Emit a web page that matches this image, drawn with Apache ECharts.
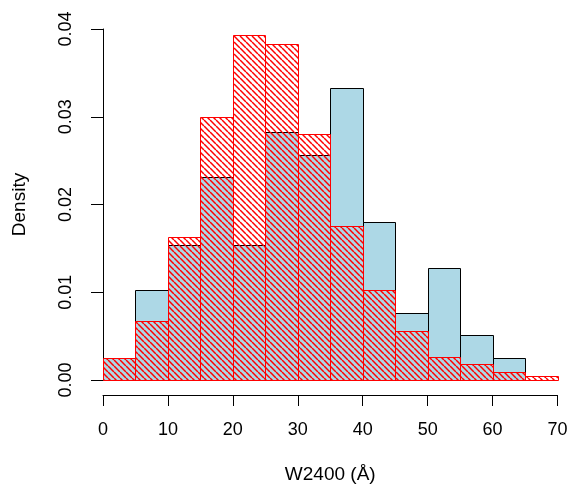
<!DOCTYPE html>
<html>
<head>
<meta charset="utf-8">
<script src="https://cdn.jsdelivr.net/npm/echarts@6/dist/echarts.min.js"></script>
<style>html,body{margin:0;padding:0;background:#fff}#c{width:571px;height:489px}</style>
</head>
<body>
<div id="c"></div>
<script>
var breaks = [0,5,10,15,20,25,30,35,40,45,50,55,60,65,70];
var blueDensity = [0.00256,0.01026,0.01538,0.02308,0.01538,0.02821,0.02564,0.03333,0.01795,0.00769,0.01282,0.00513,0.00256,0];
var redDensity = [0.00253,0.00668,0.01631,0.02997,0.03937,0.03828,0.02809,0.01759,0.0103,0.00562,0.00267,0.00181,0.00086,0.00049];
var xTicks = [0,10,20,30,40,50,60,70];
var yTicks = [0,0.01,0.02,0.03,0.04];

function toBins(vals){
  var out = [];
  for (var i=0;i<vals.length;i++){ if (vals[i]>0) out.push([breaks[i], breaks[i+1], vals[i]]); }
  return out;
}

var n = 6;
var cv = document.createElement('canvas');
cv.width = n; cv.height = n;
var cx = cv.getContext('2d');
cx.strokeStyle = '#ff0000';
cx.lineWidth = 1.5;
for (var k=-1;k<=1;k++){
  cx.beginPath(); cx.moveTo(0, k*n); cx.lineTo(n, n+k*n); cx.stroke();
}

function makeRender(fill, stroke){
  return function(params, api){
    var x0 = api.value(0), x1 = api.value(1), y = api.value(2);
    var p0 = api.coord([x0, y]);
    var p1 = api.coord([x1, 0]);
    return {
      type: 'rect',
      shape: {x: Math.round(p0[0])+0.5, y: Math.round(p0[1])+0.5, width: Math.round(p1[0])-Math.round(p0[0]), height: Math.round(p1[1])-Math.round(p0[1])},
      style: {fill: fill, stroke: stroke, lineWidth: 1}
    };
  };
}

var font = '"Liberation Sans", Arial, Helvetica, sans-serif';
var chart = echarts.init(document.getElementById('c'), null, {renderer:'canvas'});
chart.setOption({
  animation: false,
  backgroundColor: '#ffffff',
  grid: {left: 103, right: 13.5, top: 29, bottom: 106.7, containLabel: false},
  xAxis: {
    type: 'value', min: 0, max: 70, interval: 10, offset: 15,
    axisLine: {show: true, onZero: false, lineStyle: {color: '#000', width: 1}},
    axisTick: {show: true, length: 11, lineStyle: {color: '#000'}},
    axisLabel: {color: '#000', fontSize: 18, fontFamily: font, margin: 26,
      formatter: function(v){ return xTicks.indexOf(v) >= 0 ? String(v) : ''; }},
    splitLine: {show: false},
    name: 'W2400 (Å)', nameLocation: 'middle', nameGap: 70,
    nameTextStyle: {color: '#000', fontSize: 19, fontFamily: font}
  },
  yAxis: {
    type: 'value', min: 0, max: 0.04, interval: 0.01,
    axisLine: {show: true, onZero: false, lineStyle: {color: '#000', width: 1}},
    axisTick: {show: true, length: 12, lineStyle: {color: '#000'}},
    axisLabel: {color: '#000', fontSize: 18, fontFamily: font, rotate: 90, margin: 28,
      formatter: function(v){ return yTicks.indexOf(Math.round(v*100)/100) >= 0 ? v.toFixed(2) : ''; }},
    splitLine: {show: false},
    name: 'Density', nameLocation: 'middle', nameGap: 74,
    nameTextStyle: {color: '#000', fontSize: 19, fontFamily: font}
  },
  series: [
    {type: 'custom', renderItem: makeRender('#add8e6', '#000000'), data: toBins(blueDensity), encode: {x:[0,1], y:2}, z: 2},
    {type: 'custom', renderItem: makeRender({image: cv, repeat: 'repeat'}, '#ff0000'), data: toBins(redDensity), encode: {x:[0,1], y:2}, z: 3}
  ]
});
</script>
</body>
</html>
